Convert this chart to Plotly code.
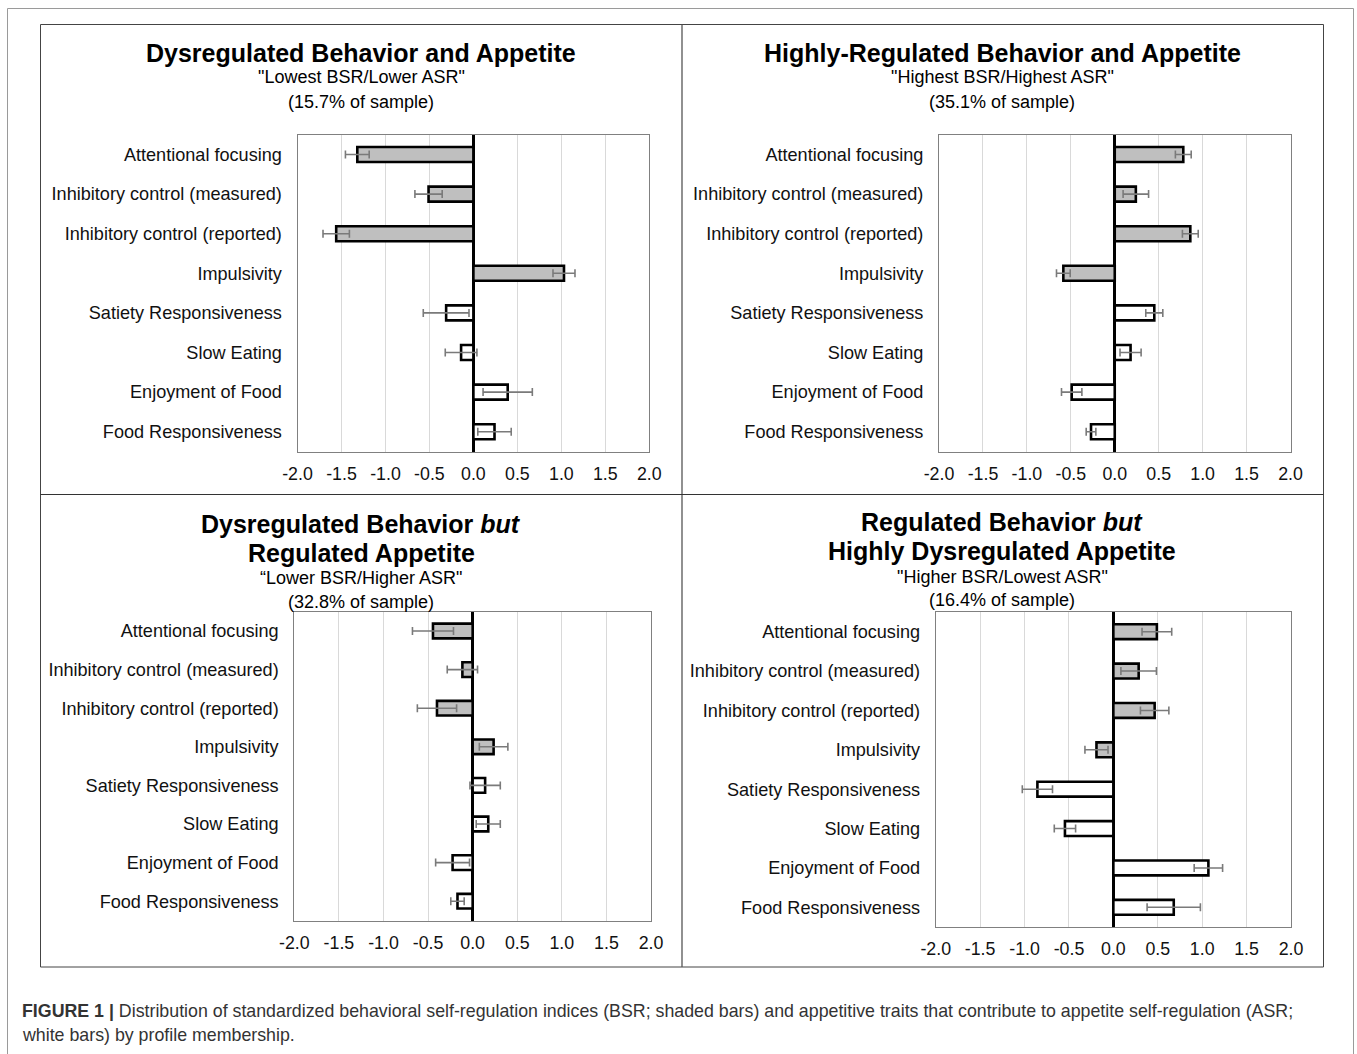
import plotly.graph_objects as go

W, H = 1357, 1054

# ---------------- data ----------------
categories = [
    "Attentional focusing",
    "Inhibitory control (measured)",
    "Inhibitory control (reported)",
    "Impulsivity",
    "Satiety Responsiveness",
    "Slow Eating",
    "Enjoyment of Food",
    "Food Responsiveness",
]
index_type = ["BSR", "BSR", "BSR", "BSR", "ASR", "ASR", "ASR", "ASR"]

p1_values = [-1.32, -0.51, -1.56, 1.03, -0.31, -0.14, 0.39, 0.24]
p1_errors = [0.135, 0.155, 0.15, 0.125, 0.26, 0.18, 0.28, 0.19]

p2_values = [0.78, 0.24, 0.86, -0.585, 0.45, 0.18, -0.49, -0.27]
p2_errors = [0.09, 0.145, 0.09, 0.078, 0.097, 0.12, 0.116, 0.055]

p3_values = [-0.445, -0.115, -0.40, 0.235, 0.14, 0.175, -0.225, -0.17]
p3_errors = [0.23, 0.17, 0.22, 0.16, 0.17, 0.135, 0.19, 0.075]

p4_values = [0.49, 0.285, 0.465, -0.19, -0.855, -0.545, 1.07, 0.68]
p4_errors = [0.167, 0.20, 0.16, 0.13, 0.17, 0.12, 0.16, 0.30]

tick_values = [-2.0, -1.5, -1.0, -0.5, 0.0, 0.5, 1.0, 1.5, 2.0]
tick_labels = ["-2.0", "-1.5", "-1.0", "-0.5", "0.0", "0.5", "1.0", "1.5", "2.0"]

p1_title = ["<b>Dysregulated Behavior and Appetite</b>", '"Lowest BSR/Lower ASR"', "(15.7% of sample)"]
p2_title = ["<b>Highly-Regulated Behavior and Appetite</b>", '"Highest BSR/Highest ASR"', "(35.1% of sample)"]
p3_title = ["<b>Dysregulated Behavior <i>but</i></b>", "<b>Regulated Appetite</b>", "\u201cLower BSR/Higher ASR\"", "(32.8% of sample)"]
p4_title = ["<b>Regulated Behavior <i>but</i></b>", "<b>Highly Dysregulated Appetite</b>", '"Higher BSR/Lowest ASR"', "(16.4% of sample)"]

caption_line1 = ("<b>FIGURE 1 |</b> Distribution of standardized behavioral self-regulation indices "
                 "(BSR; shaded bars) and appetitive traits that contribute to appetite self-regulation (ASR;")
caption_line2 = "white bars) by profile membership."

# ---------------- layout geometry (pixels) ----------------
FONT = "Liberation Sans, Arial, Helvetica, sans-serif"


def px_x(v):
    return v / W


def px_y(v):
    return 1 - v / H


panels = [
    dict(values=p1_values, errors=p1_errors, title=p1_title,
         x0=297.5, x1=649.3, y0=134.7, y1=451.5, cx=361, ty=[53, 77, 102]),
    dict(values=p2_values, errors=p2_errors, title=p2_title,
         x0=939.0, x1=1290.5, y0=134.7, y1=451.5, cx=1002, ty=[53, 77, 102]),
    dict(values=p3_values, errors=p3_errors, title=p3_title,
         x0=294.3, x1=651.0, y0=611.7, y1=920.5, cx=361, ty=[524, 553, 578, 602]),
    dict(values=p4_values, errors=p4_errors, title=p4_title,
         x0=935.7, x1=1291.0, y0=612.0, y1=927.0, cx=1002, ty=[522, 551, 577, 600]),
]

fill_for = {"BSR": "#bfbfbf", "ASR": "#ffffff"}

fig = go.Figure()
annotations = []
layout_axes = {}

for i, p in enumerate(panels):
    n = "" if i == 0 else str(i + 1)
    fig.add_trace(go.Bar(
        x=p["values"], y=categories, orientation="h",
        xaxis="x" + n, yaxis="y" + n,
        width=0.38,
        marker=dict(color=[fill_for[t] for t in index_type],
                    line=dict(color="#000000", width=2.6)),
        error_x=dict(type="data", array=p["errors"], visible=True,
                     color="#7a7a7a", thickness=1.6, width=4),
        showlegend=False, hoverinfo="x+y",
    ))
    layout_axes["xaxis" + n] = dict(
        domain=[px_x(p["x0"]), px_x(p["x1"])], anchor="y" + n,
        range=[-2, 2], tickvals=tick_values, ticktext=tick_labels,
        showgrid=True, gridcolor="#d9d9d9", gridwidth=1,
        zeroline=True, zerolinecolor="#000000", zerolinewidth=3,
        showline=True, linecolor="#808080", linewidth=1, mirror=True,
        ticks="", ticklabelstandoff=6, automargin=False,
        tickfont=dict(family=FONT, size=17.8, color="#111111"),
        fixedrange=True,
    )
    layout_axes["yaxis" + n] = dict(
        domain=[px_y(p["y1"]), px_y(p["y0"])], anchor="x" + n,
        type="category", categoryorder="array", categoryarray=categories,
        range=[7.5, -0.5],
        showgrid=False, zeroline=False,
        showline=True, linecolor="#808080", linewidth=1, mirror=True,
        ticks="", ticklabelstandoff=11, automargin=False,
        tickfont=dict(family=FONT, size=18.1, color="#111111"),
        fixedrange=True,
    )
    for k, (txt, ty) in enumerate(zip(p["title"], p["ty"])):
        is_main = txt.startswith("<b>")
        annotations.append(dict(
            x=px_x(p["cx"]), y=px_y(ty), xref="paper", yref="paper",
            xanchor="center", yanchor="middle", showarrow=False, text=txt,
            font=dict(family=FONT, size=25 if is_main else 18, color="#000000"),
        ))

annotations.append(dict(
    x=px_x(20), y=px_y(1011), xref="paper", yref="paper", xanchor="left", yanchor="middle",
    showarrow=False, text=caption_line1, font=dict(family=FONT, size=17.8, color="#333333")))
annotations.append(dict(
    x=px_x(20), y=px_y(1035), xref="paper", yref="paper", xanchor="left", yanchor="middle",
    showarrow=False, text=caption_line2, font=dict(family=FONT, size=17.8, color="#333333")))

shapes = [
    # outer card border (top + sides)
    dict(type="path", xref="paper", yref="paper",
         path=f"M {px_x(7.5)},{px_y(1054)} L {px_x(7.5)},{px_y(8.5)} L {px_x(1353.5)},{px_y(8.5)} L {px_x(1353.5)},{px_y(1054)}",
         line=dict(color="#9a9a9a", width=1)),
    # inner frame around the four panels
    dict(type="rect", xref="paper", yref="paper",
         x0=px_x(40.5), x1=px_x(1323.5), y0=px_y(967), y1=px_y(24.5),
         line=dict(color="#444444", width=1)),
    dict(type="line", xref="paper", yref="paper",
         x0=px_x(682), x1=px_x(682), y0=px_y(967), y1=px_y(24.5),
         line=dict(color="#555555", width=1.3)),
    dict(type="line", xref="paper", yref="paper",
         x0=px_x(40.5), x1=px_x(1323.5), y0=px_y(494.5), y1=px_y(494.5),
         line=dict(color="#333333", width=1)),
]

fig.update_layout(
    template="none",
    width=W, height=H, autosize=False,
    margin=dict(l=0, r=0, t=0, b=0, pad=0, autoexpand=False),
    paper_bgcolor="#ffffff", plot_bgcolor="#ffffff",
    annotations=annotations, shapes=shapes, bargap=0.6,
    font=dict(family=FONT),
    **layout_axes,
)

post = (
    "document.documentElement.style.margin='0';document.documentElement.style.overflow='hidden';"
    "document.body.style.margin='0';document.body.style.padding='0';document.body.style.overflow='hidden';"
)
fig.write_html("out.html", config={"displayModeBar": False, "responsive": False}, post_script=post)
